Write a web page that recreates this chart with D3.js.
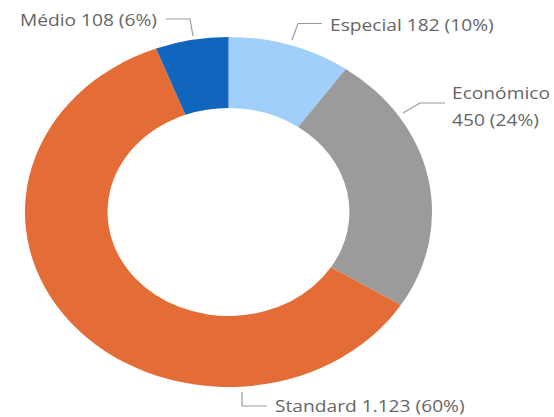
<!DOCTYPE html>
<html>
<head>
<meta charset="utf-8">
<script src="https://cdn.jsdelivr.net/npm/d3@7"></script>
<style>
  html, body { margin: 0; padding: 0; background: #fff; }
  svg { display: block; }
  .lbl { font-family: "Open Sans", sans-serif; font-size: 16.5px; fill: #666; }
</style>
</head>
<body>
<svg id="chart" width="554" height="417"></svg>
<script>
// data
const categories = ['Especial', 'Económico', 'Standard', 'Médio'];
const values = [182, 450, 1123, 108];
const valueLabels = ['182', '450', '1.123', '108'];
const colors = ['#a0cffc', '#9b9b9b', '#e46c36', '#1066bd'];

const W = 554, H = 417;
const sx = 1.163;            // picture is stretched horizontally
const cx = 228.5, cy = 212;
const outerR = 175, innerR = 104;

const svg = d3.select('#chart');
const g = svg.append('g').attr('transform', `scale(${sx},1)`);

const total = d3.sum(values);
const data = categories.map((c, i) => ({ label: c, value: values[i], vl: valueLabels[i], color: colors[i] }));

let pie = d3.pie().value(d => d.value).sort(null);
let arcGen = d3.arc().innerRadius(innerR).outerRadius(outerR);
let arcData = pie(data);

g.append('g')
  .attr('transform', `translate(${cx / sx},${cy})`)
  .selectAll('path')
  .data(arcData)
  .join('path')
  .attr('d', arcGen)
  .attr('fill', d => d.data.color);

// label layout (screen px): leader polyline + text anchor
const layout = {
  'Médio':     { pts: [[193, 36], [190, 19], [166, 19]], tx: 157, ty: 20, anchor: 'end' },
  'Especial':  { pts: [[292, 40], [298, 23.5], [322, 23.5]], tx: 330, ty: 25, anchor: 'start' },
  'Económico': { pts: [[403, 113], [420, 103], [445, 103]], tx: 452, ty: 93, anchor: 'start', split: true },
  'Standard':  { pts: [[242, 392], [242, 406], [267, 406]], tx: 275, ty: 406, anchor: 'start' }
};

const pct = v => Math.round(v / total * 100) + '%';

arcData.forEach(d => {
  const L = layout[d.data.label];
  g.append('polyline')
    .attr('points', L.pts.map(p => `${p[0] / sx},${p[1]}`).join(' '))
    .attr('fill', 'none')
    .attr('stroke', '#999')
    .attr('stroke-width', 1);

  const t = g.append('text')
    .attr('class', 'lbl')
    .attr('text-anchor', L.anchor)
    .attr('x', L.tx / sx)
    .attr('y', L.ty)
    .attr('dy', '0.35em');
  if (L.split) {
    t.append('tspan').attr('x', L.tx / sx).text(d.data.label);
    t.append('tspan').attr('x', L.tx / sx).attr('dy', 27).text(`${d.data.vl} (${pct(d.data.value)})`);
  } else {
    t.text(`${d.data.label} ${d.data.vl} (${pct(d.data.value)})`);
  }
});
</script>
</body>
</html>
